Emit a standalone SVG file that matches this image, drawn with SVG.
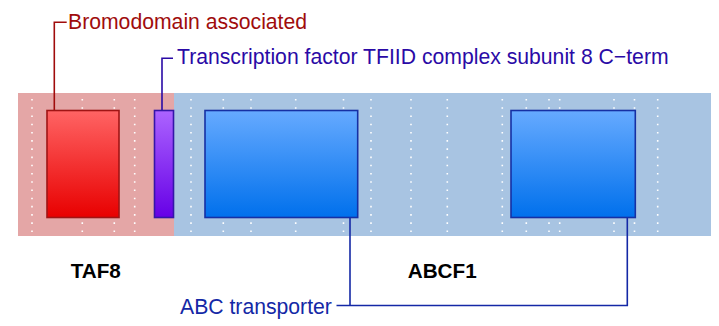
<svg xmlns="http://www.w3.org/2000/svg" width="719" height="326" viewBox="0 0 719 326">
<style>
.lbl{font-family:"Liberation Sans",Arial,sans-serif;font-size:21.2px}
.gene{font-family:"Liberation Sans",Arial,sans-serif;font-size:20.7px;font-weight:bold;fill:#000}
.dot{stroke:#ffffff;stroke-width:1.6;stroke-dasharray:1.6 6.62;fill:none}
.conn{fill:none;stroke-width:1.6}
</style>
<defs>
<linearGradient id="gRed" x1="0" y1="0" x2="0" y2="1"><stop offset="0" stop-color="#ff6464"/><stop offset="1" stop-color="#e80000"/></linearGradient>
<linearGradient id="gPur" x1="0" y1="0" x2="0" y2="1"><stop offset="0" stop-color="#ac64ff"/><stop offset="1" stop-color="#6600e6"/></linearGradient>
<linearGradient id="gBlue" x1="0" y1="0" x2="0" y2="1"><stop offset="0" stop-color="#66aaff"/><stop offset="1" stop-color="#0070ec"/></linearGradient>
</defs>
<g id="background">
<rect x="18" y="93" width="156" height="143" fill="#e4a6a6"/>
<rect x="174" y="93" width="537" height="143" fill="#a8c4e2"/>
</g>
<g id="gridlines">
<line class="dot" x1="32" y1="99" x2="32" y2="236"/>
<line class="dot" x1="82.3" y1="99" x2="82.3" y2="236"/>
<line class="dot" x1="114.3" y1="99" x2="114.3" y2="236"/>
<line class="dot" x1="134.7" y1="99" x2="134.7" y2="236"/>
<line class="dot" x1="191" y1="99" x2="191" y2="236"/>
<line class="dot" x1="223.3" y1="99" x2="223.3" y2="236"/>
<line class="dot" x1="251" y1="99" x2="251" y2="236"/>
<line class="dot" x1="295.7" y1="99" x2="295.7" y2="236"/>
<line class="dot" x1="343.5" y1="99" x2="343.5" y2="236"/>
<line class="dot" x1="371" y1="99" x2="371" y2="236"/>
<line class="dot" x1="411" y1="99" x2="411" y2="236"/>
<line class="dot" x1="447.3" y1="99" x2="447.3" y2="236"/>
<line class="dot" x1="502.3" y1="99" x2="502.3" y2="236"/>
<line class="dot" x1="526.3" y1="99" x2="526.3" y2="236"/>
<line class="dot" x1="549" y1="99" x2="549" y2="236"/>
<line class="dot" x1="559.7" y1="99" x2="559.7" y2="236"/>
<line class="dot" x1="614" y1="99" x2="614" y2="236"/>
<line class="dot" x1="634.5" y1="99" x2="634.5" y2="236"/>
<line class="dot" x1="657.7" y1="99" x2="657.7" y2="236"/>
</g>
<g id="connectors">
<path class="conn" d="M54.3,110.5 V22.3 H66.7" stroke="#a00c0c"/>
<path class="conn" d="M162,110.5 V58.3 H173" stroke="#2a0aa6"/>
<path class="conn" d="M336.5,305.5 H350 M350,217.5 V305.5 H627.3 V217.5" stroke="#1428a6"/>
</g>
<g id="node-bromodomain">
<rect x="47" y="110.5" width="72" height="107" fill="url(#gRed)" stroke="#a01414" stroke-width="1.6"/>
<text class="lbl" x="68" y="29.3" fill="#a00c0c">Bromodomain associated</text>
</g>
<g id="node-taf8-cterm">
<rect x="154.5" y="110.5" width="19" height="107" fill="url(#gPur)" stroke="#3416a8" stroke-width="1.6"/>
<text class="lbl" x="177" y="64.3" fill="#2a0aa6">Transcription factor TFIID complex subunit 8 C−term</text>
</g>
<g id="node-abc1">
<rect x="205" y="110.5" width="152.7" height="107" fill="url(#gBlue)" stroke="#1630a4" stroke-width="1.6"/>
</g>
<g id="node-abc2">
<rect x="511" y="110.5" width="124.3" height="107" fill="url(#gBlue)" stroke="#1630a4" stroke-width="1.6"/>
<text class="lbl" x="180" y="314.3" fill="#1428a6">ABC transporter</text>
</g>
<g id="gene-labels">
<text class="gene" x="70.7" y="278.3">TAF8</text>
<text class="gene" x="407.7" y="278.3">ABCF1</text>
</g>
</svg>
